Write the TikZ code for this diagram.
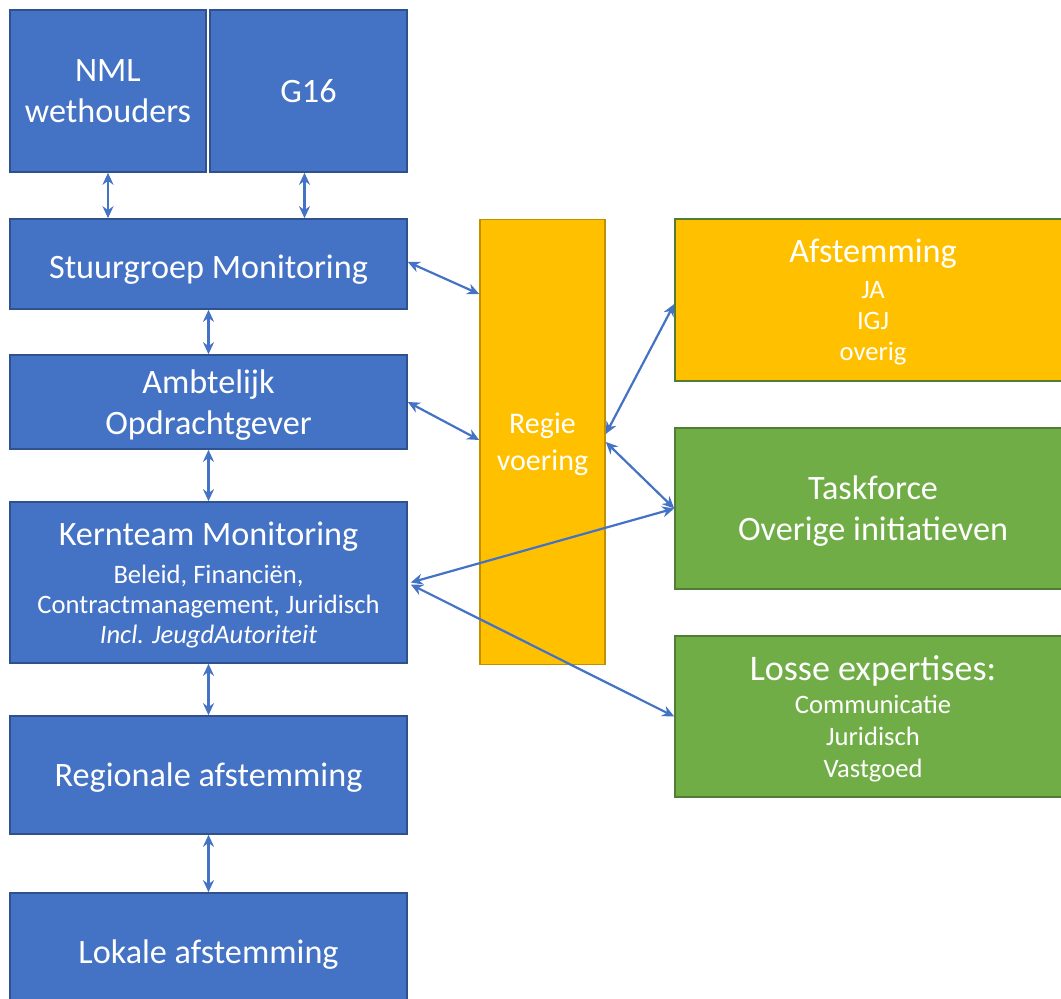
\documentclass[tikz,border=0pt]{standalone}
\usepackage{fontspec}
\setmainfont{Carlito}
\usepackage{xcolor}
\definecolor{xblue}{HTML}{4472C4}
\definecolor{xbluedark}{HTML}{2F528F}
\definecolor{xorange}{HTML}{FFC000}
\definecolor{xorangedark}{HTML}{BF9000}
\definecolor{xgreen}{HTML}{70AD47}
\definecolor{xgreendark}{HTML}{507E32}
\newcommand{\subfont}{\fontsize{13.3}{15.5}\selectfont}
\usepackage{tikz}
\usetikzlibrary{arrows.meta}
\tikzset{
  %% Styles %%
  box/.style = {draw=#1dark, fill=#1, line width=0.8pt, text=white, align=center,
    inner sep=0pt, text depth=0pt, font=\fontsize{17.1}{20.5}\selectfont},
  size/.style 2 args = {minimum width=#1*0.5pt, minimum height=#2*0.5pt},
  link/.style = {draw=xblue, line width=1.1pt,
    {Stealth[length=6pt, width=5.5pt]}-{Stealth[length=6pt, width=5.5pt]}},
}

\begin{document}
\begin{tikzpicture}[x=0.5pt, y=-0.5pt]
  \useasboundingbox (0,0) rectangle (1061,999);
  \clip (0,0) rectangle (1061,999);

  % Left column
  \node[box=xblue, size={196}{162}] (nml) at (108,91) {NML\\wethouders};
  \node[box=xblue, size={197}{162}] (g16) at (308.5,91) {G16};
  \node[box=xblue, size={397}{90}] (stuur) at (208.5,264) {\raisebox{-3pt}{Stuurgroep Monitoring}};
  \node[box=xblue, size={397}{94}] (ambt) at (208.5,402) {Ambtelijk\\Opdrachtgever};
  \node[box=xblue, size={397}{161}] (kern) at (208.5,582.5)
    {Kernteam Monitoring\\[-1.5pt]{\subfont Beleid, Financiën,}\\[-5.5pt]
     {\subfont Contractmanagement, Juridisch}\\[-5.5pt]
     {\subfont\itshape Incl. JeugdAutoriteit}};
  \node[box=xblue, size={397}{118}] (regio) at (208.5,775) {Regionale afstemming};
  \node[box=xblue, size={397}{118}] (lokaal) at (208.5,952) {Lokale afstemming};

  % Middle and right
  \node[box=xorange, size={125}{445}, font=\fontsize{15}{18.5}\selectfont] (regie) at (542.5,442)
    {Regie\\voering};
  \node[box=xorange, draw=xgreendark, size={396}{162}] (afst) at (873,300)
    {Afstemming\\[-2.5pt]{\subfont JA}\\[-5pt]{\subfont IGJ}\\[-5pt]{\subfont overig}};
  \node[box=xgreen, size={396}{161}] (task) at (873,508.5) {Taskforce\\Overige initiatieven};
  \node[box=xgreen, size={396}{161}, font=\fontsize{18}{21.5}\selectfont] (losse) at (873,716.5)
    {Losse expertises:\\[-5pt]{\subfont Communicatie}\\[-5.5pt]
     {\subfont Juridisch}\\[-5.5pt]{\subfont Vastgoed}};

  % Connectors
  \draw[link] (nml.south) -- (nml.south |- stuur.north);
  \draw[link] ([xshift=-2pt]g16.south) -- ([xshift=-2pt]g16.south |- stuur.north);
  \draw[link] (stuur.south) -- (ambt.north);
  \draw[link] (ambt.south) -- (kern.north);
  \draw[link] (kern.south) -- (regio.north);
  \draw[link] (regio.south) -- (lokaal.north);
  \draw[link] ([yshift=1pt]stuur.east) -- ([yshift=74pt]regie.west);
  \draw[link] (ambt.east) -- ([yshift=1pt]regie.west);
  \draw[link] ([yshift=4pt]regie.east) -- ([yshift=-2pt]afst.west);
  \draw[link] (regie.east) -- (task.west);
  \draw[link] ([xshift=1.5pt]kern.east) -- (task.west);
  \draw[link] ([xshift=1.5pt,yshift=-1pt]kern.east) -- (losse.west);
\end{tikzpicture}
\end{document}
